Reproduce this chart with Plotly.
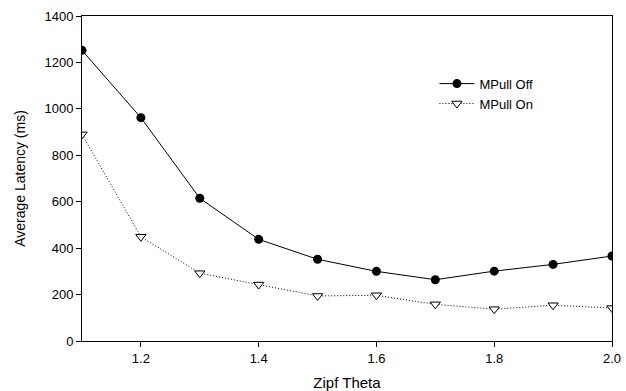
import plotly.graph_objects as go

zipf_theta = [1.1, 1.2, 1.3, 1.4, 1.5, 1.6, 1.7, 1.8, 1.9, 2.0]
mpull_off = [1252, 962, 615, 438, 352, 300, 264, 301, 330, 366]
mpull_on = [890, 449, 292, 243, 194, 197, 158, 137, 154, 142]

x_ticks = [1.2, 1.4, 1.6, 1.8, 2.0]
y_ticks = [0, 200, 400, 600, 800, 1000, 1200, 1400]

fig = go.Figure()
fig.add_trace(go.Scatter(
    x=zipf_theta, y=mpull_off, name="MPull Off", mode="lines+markers",
    line=dict(color="black", width=1),
    marker=dict(symbol="circle", size=9, color="black"),
))
fig.add_trace(go.Scatter(
    x=zipf_theta, y=mpull_on, name="MPull On", mode="lines+markers",
    line=dict(color="black", width=1, dash="1px,2px"),
    marker=dict(symbol="triangle-down", size=9, color="white",
                line=dict(color="black", width=1)),
))

fig.update_layout(
    width=626, height=391,
    margin=dict(l=82, r=14, t=16, b=50),
    paper_bgcolor="white", plot_bgcolor="white",
    font=dict(family="Liberation Sans, Arial, sans-serif", size=13, color="black"),
    showlegend=True,
    legend=dict(x=0.665, y=0.838, xanchor="left", yanchor="top",
                bgcolor="rgba(0,0,0,0)", font=dict(size=13),
                tracegroupgap=0, itemwidth=35),
)
fig.update_xaxes(
    range=[1.1, 2.0], tickvals=x_ticks, ticktext=[f"{v:.1f}" for v in x_ticks],
    showgrid=False, zeroline=False, showline=True, linecolor="black", linewidth=1,
    mirror=True, ticks="outside", ticklen=5, tickcolor="black", automargin=False,
    title=dict(text="Zipf Theta", font=dict(size=15)),
    tickfont=dict(size=13),
)
fig.update_yaxes(
    range=[0, 1400], tickvals=y_ticks,
    showgrid=False, zeroline=False, showline=True, linecolor="black", linewidth=1,
    mirror=True, ticks="outside", ticklen=5, tickcolor="black", automargin=False,
    title=dict(text="Average Latency (ms)", font=dict(size=14)),
    tickfont=dict(size=13),
)

fig.write_html("out.html")
